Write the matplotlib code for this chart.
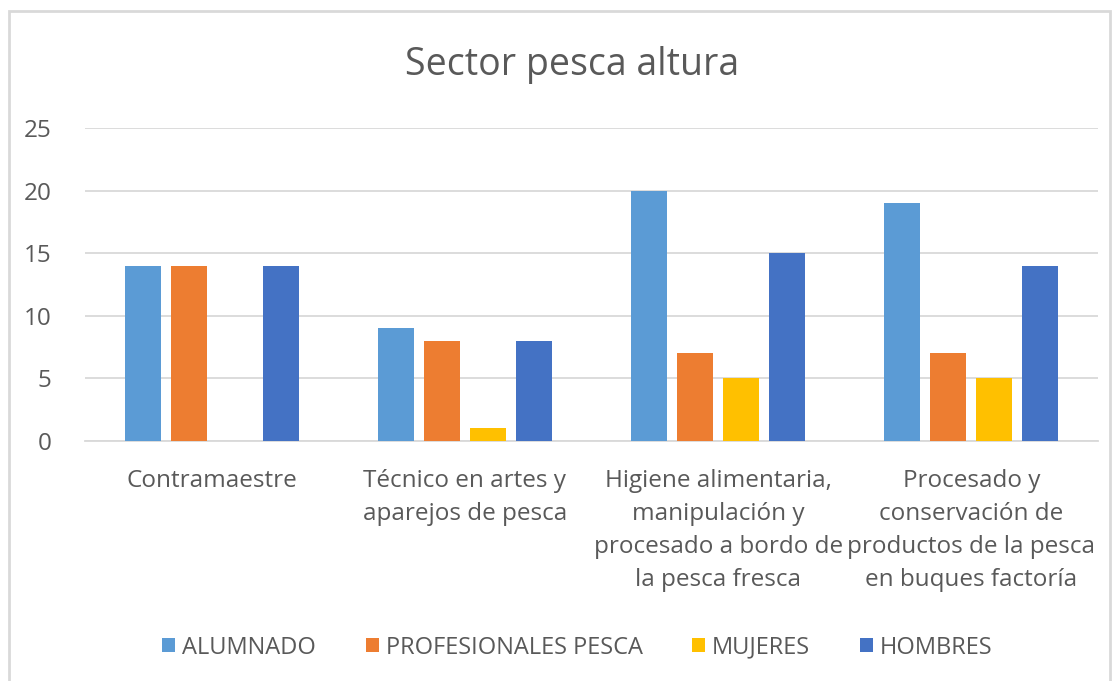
import numpy as np
import matplotlib.pyplot as plt
from matplotlib.patches import Rectangle

# datos del gráfico
categorias = ["Contramaestre",
              "Técnico en artes y\naparejos de pesca",
              "Higiene alimentaria,\nmanipulación y\nprocesado a bordo de\nla pesca fresca",
              "Procesado y\nconservación de\nproductos de la pesca\nen buques factoría"]
series = ["ALUMNADO", "PROFESIONALES PESCA", "MUJERES", "HOMBRES"]
alumnado = [14, 9, 20, 19]
profesionales = [14, 8, 7, 7]
mujeres = [0, 1, 5, 5]
hombres = [14, 8, 15, 14]
valores = [alumnado, profesionales, mujeres, hombres]
colores = ["#5B9BD5", "#ED7D31", "#FFC000", "#4472C4"]

plt.rcParams['font.family'] = ['Open Sans', 'DejaVu Sans']
gris = "#595959"

fig = plt.figure(figsize=(11.17, 6.81), dpi=100)
ax = fig.add_axes([0.0761, 0.3524, 0.9069, 0.4596])

# borde del gráfico
fig.patches.append(Rectangle((9 / 1117, -0.05), 1101 / 1117, 1 - 11 / 681 + 0.05,
                             transform=fig.transFigure, fill=False,
                             edgecolor="#D9D9D9", linewidth=2))

x = np.arange(len(categorias))
ancho = 36 / 253
paso = 46 / 253
for i, (serie, val) in enumerate(zip(series, valores)):
    ax.bar(x + (i - 1.5) * paso, val, ancho, color=colores[i], label=serie, zorder=3)

ax.set_xlim(-0.5, 3.5)
ax.set_ylim(0, 25)
ax.set_yticks(range(0, 26, 5))
ax.yaxis.grid(True, color="#D9D9D9", linewidth=1.3, zorder=0)
for s in ["top", "right", "left"]:
    ax.spines[s].set_visible(False)
ax.spines["bottom"].set_color("#D9D9D9")
ax.spines["bottom"].set_linewidth(1.3)
ax.tick_params(axis="both", length=0, colors=gris, labelsize=17.5)
ax.tick_params(axis="y", pad=24)
ax.tick_params(axis="x", pad=20)
ax.set_xticks(x)
ax.set_xticklabels(categorias, linespacing=1.5, va="top")

fig.text(0.512, 0.905, "Sector pesca altura", ha="center", va="center",
         fontsize=27, color=gris)

ax.legend(loc="center", bbox_to_anchor=(0.486, -0.66), ncol=4, frameon=False,
          fontsize=17, labelcolor=gris, handlelength=0.55, handleheight=0.55,
          handletextpad=0.3, columnspacing=2.1)

plt.savefig("out.png", dpi=100)
